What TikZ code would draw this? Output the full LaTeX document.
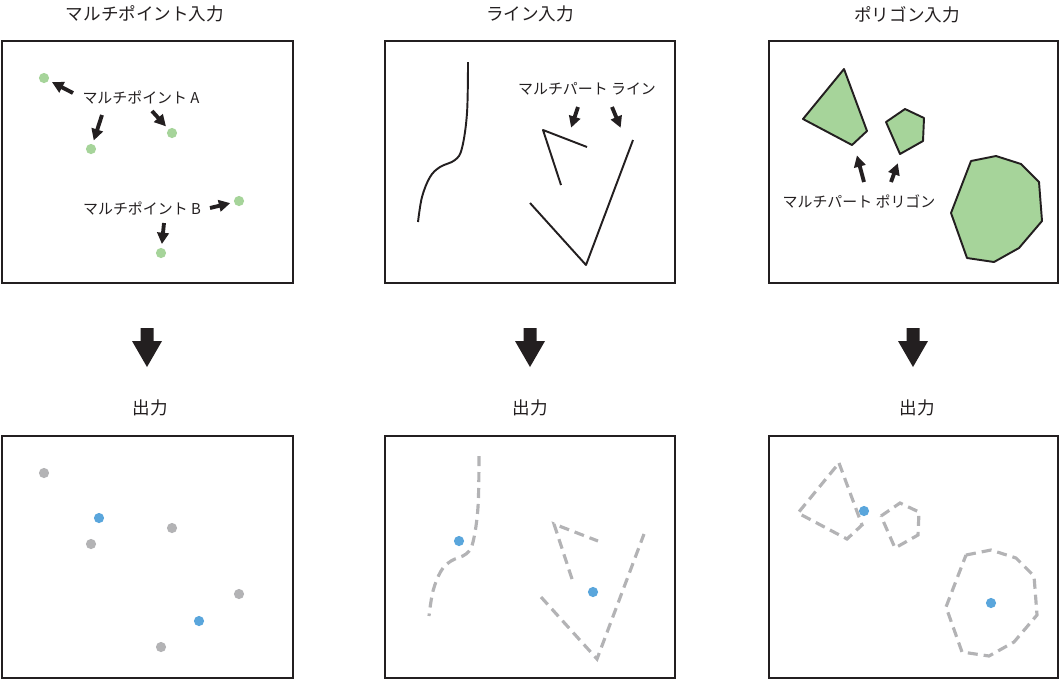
\documentclass[tikz,border=0pt]{standalone}
\usepackage{fontspec}
\setmainfont{Noto Sans CJK JP}
\usetikzlibrary{arrows.meta}
\definecolor{ptgreen}{HTML}{A6D49A}
\definecolor{ptblue}{HTML}{5AA6DC}
\definecolor{ptgray}{HTML}{B3B3B5}
\definecolor{inkblack}{HTML}{231F20}

\begin{document}
\begin{tikzpicture}[x=0.02cm,y=-0.02cm,
  frame/.style={draw=inkblack,line width=1.5pt},
  title/.style={font=\fontsize{10}{12}\selectfont,text=inkblack,inner sep=0pt},
  tag/.style={font=\fontsize{8.5}{10}\selectfont,text=inkblack,inner sep=0pt},
  ptr/.style={-{Triangle[length=6.5pt,width=6.5pt]},line width=2.2pt,draw=inkblack,shorten >=2pt},
  pt/.style={circle,fill=#1,inner sep=0pt,minimum size=5.8pt},
  feat/.style={draw=inkblack,line width=1.1pt,line join=round},
  result/.style={draw=ptgray,line width=1.8pt,dash pattern=on 5.7pt off 3.4pt}]

\useasboundingbox (0,0) rectangle (1061,681);

% Panel frames
\draw[frame] (2,41) rectangle (293,283);
\draw[frame] (385,41) rectangle (675,283);
\draw[frame] (769,41) rectangle (1058,283);
\draw[frame] (2,436) rectangle (293,678);
\draw[frame] (385,436) rectangle (675,678);
\draw[frame] (769,436) rectangle (1058,678);

% Titles
\node[title] (t1) at (145,14) {マルチポイント入力};
\node[title] (t2) at (530,14) {ライン入力};
\node[title] (t3) at (907,15) {ポリゴン入力};
\node[title] (o1) at (150,408) {出力};
\node[title] (o2) at (530,408) {出力};
\node[title] (o3) at (917,408) {出力};

% Down arrows
\foreach \cx in {147,530,913}
  \fill[inkblack] (\cx-6.5,328) -- (\cx+6.5,328) -- (\cx+6.5,341) -- (\cx+15,341)
    -- (\cx,367) -- (\cx-15,341) -- (\cx-6.5,341) -- cycle;

% Multipoint input
\node[pt=ptgreen] (p1) at (44,78) {};
\node[pt=ptgreen] (p2) at (91,149) {};
\node[pt=ptgreen] (p3) at (172,133) {};
\node[pt=ptgreen] (p4) at (239,201) {};
\node[pt=ptgreen] (p5) at (161,253) {};
\node[tag] (tagA) at (141,97) {マルチポイント A};
\node[tag] (tagB) at (142,208) {マルチポイント B};
\coordinate (a1) at (73,93);
\coordinate (a2) at (102,115);
\coordinate (a3) at (152,111);
\coordinate (b1) at (210,208);
\coordinate (b2) at (164,223);
\draw[ptr] (a1) -- (p1);
\draw[ptr] (a2) -- (p2);
\draw[ptr] (a3) -- (p3);
\draw[ptr] (b1) -- (p4);
\draw[ptr] (b2) -- (p5);

% Line input
\draw[feat] plot[smooth,tension=0.6] coordinates {(468,62) (467,113) (462,148) (455,160) (440,167) (430,177) (422,197) (418,222)};
\draw[feat] (561,185) -- (543,130) -- (587,147);
\draw[feat] (530,203) -- (586,265) -- (633,140);
\node[tag] (tagL) at (587,89) {マルチパート ライン};
\coordinate (l1) at (578,107);
\coordinate (l1e) at (570,131);
\coordinate (l2) at (612,107);
\coordinate (l2e) at (622,131);
\draw[ptr] (l1) -- (l1e);
\draw[ptr] (l2) -- (l2e);

% Polygon input
\draw[feat,fill=ptgreen] (844,69) -- (867,131) -- (852,145) -- (803,119) -- cycle;
\draw[feat,fill=ptgreen] (886,122) -- (905,109) -- (924,118) -- (923,141) -- (900,154) -- cycle;
\draw[feat,fill=ptgreen] (971,161) -- (996,156) -- (1021,164) -- (1039,182) -- (1042,221)
  -- (1019,248) -- (994,262) -- (967,258) -- (951,213) -- cycle;
\node[tag] (tagP) at (859,201) {マルチパート ポリゴン};
\coordinate (g1) at (864,182);
\coordinate (g1e) at (856,152);
\coordinate (g2) at (891,182);
\coordinate (g2e) at (899,160);
\draw[ptr] (g1) -- (g1e);
\draw[ptr] (g2) -- (g2e);

% Multipoint output
\node[pt=ptgray] (q1) at (44,473) {};
\node[pt=ptgray] (q2) at (91,544) {};
\node[pt=ptgray] (q3) at (172,528) {};
\node[pt=ptgray] (q4) at (239,594) {};
\node[pt=ptgray] (q5) at (161,647) {};
\node[pt=ptblue] (c1) at (99,518) {};
\node[pt=ptblue] (c2) at (199,621) {};

% Line output
\begin{scope}[shift={(11,394)}]
\draw[result] plot[smooth,tension=0.6] coordinates {(468,62) (467,113) (462,148) (455,160) (440,167) (430,177) (422,197) (418,222)};
\draw[result] (561,185) -- (543,130) -- (587,147);
\draw[result] (530,203) -- (586,265) -- (633,140);
\end{scope}
\node[pt=ptblue] (c3) at (459,541) {};
\node[pt=ptblue] (c4) at (593,592) {};

% Polygon output
\begin{scope}[shift={(-5,394)}]
\draw[result] (844,69) -- (867,131) -- (852,145) -- (803,119) -- cycle;
\draw[result] (886,122) -- (905,109) -- (924,118) -- (923,141) -- (900,154) -- cycle;
\draw[result] (971,161) -- (996,156) -- (1021,164) -- (1039,182) -- (1042,221)
  -- (1019,248) -- (994,262) -- (967,258) -- (951,213) -- cycle;
\end{scope}
\node[pt=ptblue] (c5) at (864,511) {};
\node[pt=ptblue] (c6) at (991,603) {};

\end{tikzpicture}
\end{document}
